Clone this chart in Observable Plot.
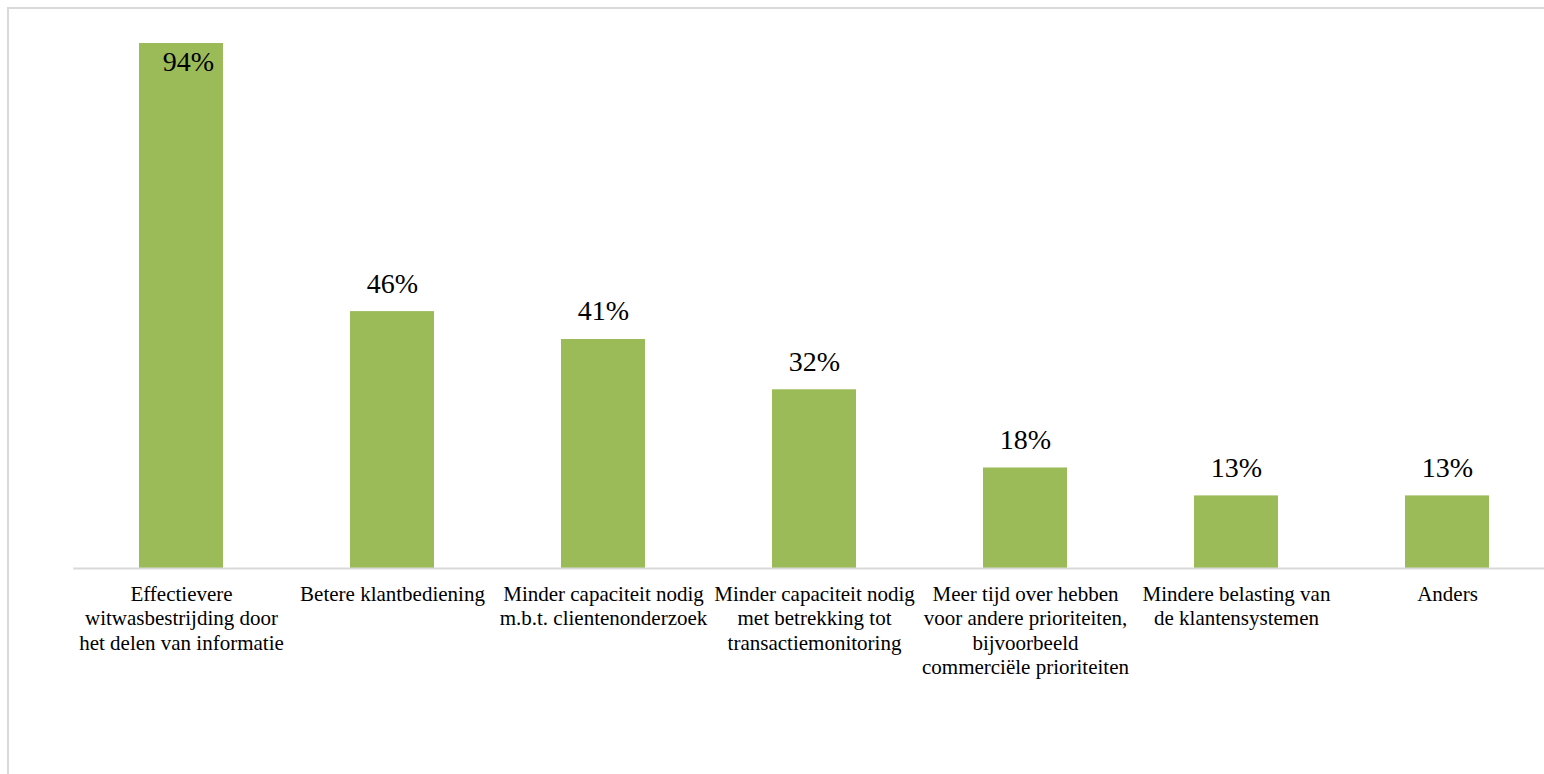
<!DOCTYPE html>
<html>
<head>
<meta charset="utf-8">
<script src="https://cdn.jsdelivr.net/npm/d3@7"></script>
<script src="https://cdn.jsdelivr.net/npm/@observablehq/plot@0.6"></script>
<style>
  html, body { margin: 0; padding: 0; background: #fff; overflow: hidden; width: 1544px; height: 774px; }
  #frame { position: absolute; left: 7px; top: 7px; width: 1600px; height: 900px;
           border-left: 2px solid #d9d9d9; border-top: 2px solid #d9d9d9; }
  #chart { position: absolute; left: 0; top: 0; width: 1544px; height: 774px; overflow: hidden; }
  #chart svg { max-width: none !important; }
  #chart svg, #chart svg text, #chart svg tspan { font-family: "Liberation Serif", Tinos, "Times New Roman", "DejaVu Serif", serif !important; }
</style>
</head>
<body>
<div id="frame"></div>
<div id="chart"></div>
<script>
const categories = [
  "Effectievere\nwitwasbestrijding door\nhet delen van informatie",
  "Betere klantbediening",
  "Minder capaciteit nodig\nm.b.t. clientenonderzoek",
  "Minder capaciteit nodig\nmet betrekking tot\ntransactiemonitoring",
  "Meer tijd over hebben\nvoor andere prioriteiten,\nbijvoorbeeld\ncommerciële prioriteiten",
  "Mindere belasting van\nde klantensystemen",
  "Anders"
];
const values = [94, 46, 41, 32, 18, 13, 13];
const valueLabels = ["94%", "46%", "41%", "32%", "18%", "13%", "13%"];

const data = categories.map((c, i) => ({category: c, value: values[i], label: valueLabels[i]}));
const inside = data.filter(d => d.value > 90);
const outside = data.filter(d => d.value <= 90);
const serif = "'Liberation Serif', Tinos, 'Times New Roman', 'DejaVu Serif', serif";

const plot = Plot.plot({
  width: 1554,
  height: 774,
  marginLeft: 73.25,
  marginRight: 0.25,
  marginTop: 0,
  marginBottom: 206,
  style: {background: "transparent", fontFamily: serif},
  x: {domain: categories, paddingInner: 0.603, paddingOuter: 0.3015, axis: null},
  y: {domain: [0, 100], range: [568, 9.5], axis: null},
  marks: [
    Plot.barY(data, {x: "category", y: "value", fill: "#9bbb59"}),
    Plot.ruleY([0], {stroke: "#d9d9d9", strokeWidth: 2}),
    Plot.text(outside, {x: "category", y: "value", text: "label", dy: -28, fontSize: 28, fontFamily: serif, fill: "#000"}),
    Plot.text(inside, {x: "category", y: "value", text: "label", dy: 19, dx: 7, fontSize: 28, fontFamily: serif, fill: "#000"}),
    Plot.text(data, {x: "category", y: () => 0, text: "category", lineAnchor: "top", dy: 15, fontSize: 21, lineHeight: 1.16, fontFamily: serif, fill: "#000"})
  ]
});
document.getElementById("chart").appendChild(plot);
</script>
</body>
</html>
